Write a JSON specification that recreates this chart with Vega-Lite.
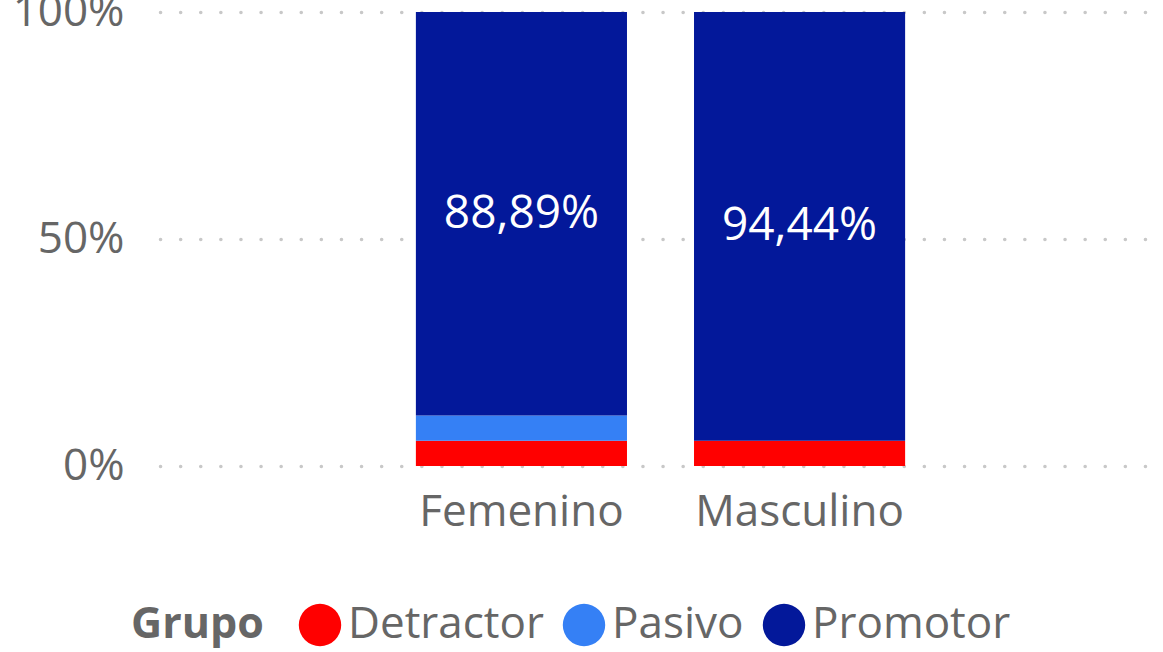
{
  "$schema": "https://vega.github.io/schema/vega-lite/v6.json",
  "autosize": {"type": "none"},
  "width": 1001,
  "height": 454,
  "padding": {"left": 160, "top": 12, "right": 2, "bottom": 186},
  "background": "white",
  "config": {
    "view": {"stroke": null},
    "font": "Open Sans",
    "locale": {"number": {"decimal": ",", "thousands": ".", "grouping": [3], "currency": ["", " €"]}}
  },
  "data": {
    "values": [
      {"Sexo": "Femenino", "Grupo": "Detractor", "pct": 0.0556},
      {"Sexo": "Femenino", "Grupo": "Pasivo", "pct": 0.0555},
      {"Sexo": "Femenino", "Grupo": "Promotor", "pct": 0.8889},
      {"Sexo": "Masculino", "Grupo": "Detractor", "pct": 0.0556},
      {"Sexo": "Masculino", "Grupo": "Promotor", "pct": 0.9444}
    ]
  },
  "encoding": {
    "x": {
      "field": "Sexo", "type": "nominal", "title": null,
      "scale": {"paddingInner": 0.241, "paddingOuter": 0.92},
      "axis": {"labelAngle": 0, "labelFontSize": 44, "labelColor": "#666666", "ticks": false, "domain": false, "labelPadding": 24, "grid": false, "labelLimit": 0}
    },
    "y": {
      "field": "pct", "type": "quantitative", "stack": "normalize", "title": null,
      "scale": {"domain": [0, 1]},
      "axis": {"values": [0, 0.5, 1], "format": ".0%", "labelFontSize": 44, "labelColor": "#666666", "ticks": false, "domain": false, "labelPadding": 36,
        "grid": true, "gridDash": [0.1, 20], "gridCap": "round", "gridWidth": 3.5, "gridColor": "#c8c8c8"}
    },
    "order": {"field": "Grupo", "sort": "ascending"}
  },
  "layer": [
    {
      "mark": {"type": "bar"},
      "encoding": {
        "color": {
          "field": "Grupo", "type": "nominal",
          "scale": {"domain": ["Detractor", "Pasivo", "Promotor"], "range": ["#FF0000", "#3580F5", "#03189A"]},
          "legend": {
            "orient": "none", "legendX": -29, "legendY": 591, "direction": "horizontal",
            "titleOrient": "left", "title": "Grupo", "titleFontSize": 43, "titleFontWeight": "bold", "titleColor": "#666666",
            "titlePadding": 34, "labelFontSize": 44, "labelColor": "#666666", "symbolType": "circle", "symbolSize": 1800,
            "symbolStrokeWidth": 0, "labelOffset": 6, "columnPadding": 18, "symbolOpacity": 1, "labelLimit": 0
          }
        }
      }
    },
    {
      "mark": {"type": "text", "color": "white", "fontSize": 46, "baseline": "middle"},
      "encoding": {
        "y": {"field": "pct", "type": "quantitative", "stack": "normalize", "bandPosition": 0.5},
        "text": {
          "condition": {"test": "datum.Grupo === 'Promotor'", "field": "pct", "type": "quantitative", "format": ".2%"},
          "value": ""
        }
      }
    }
  ]
}
